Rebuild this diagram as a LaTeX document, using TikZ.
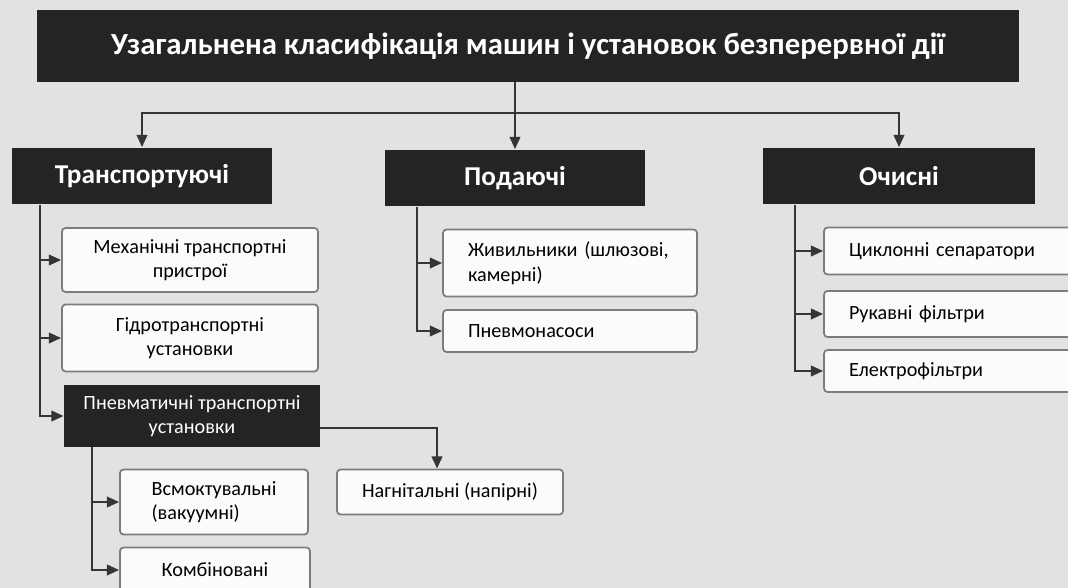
\documentclass[tikz,border=0pt]{standalone}
\usepackage{fontspec}
\setmainfont{Carlito}
\usepackage{tikz}
\usetikzlibrary{arrows.meta}

\definecolor{fon}{HTML}{E2E2E2}
\definecolor{temn}{HTML}{242424}
\definecolor{liniya}{HTML}{353535}
\definecolor{ramka}{HTML}{7C7C7C}

\tikzset{
	head/.style={fill=temn, text=white, inner sep=2pt, font=\bfseries\fontsize{15.5}{18}\selectfont},
	item/.style={draw=ramka, line width=1pt, fill=white!85!fon, rounded corners=2pt, align=center,
		inner sep=2pt, font=\fontsize{11.5}{14}\selectfont},
	itemL/.style={item, align=left, text width=4.08cm, inner xsep=0.5cm},
	arr/.style={draw=liniya, line width=1.3pt, -{Triangle[length=7pt, width=6pt]}},
}

\begin{document}
\begin{tikzpicture}[x=0.02cm, y=-0.02cm]
		
		% Фон сторінки
		\fill[fon] (0,0) rectangle (1068,588);
		\clip (0,0) rectangle (1068,588);
		
		% Заголовок
		\node[head, minimum width=19.66cm, minimum height=1.44cm, font=\bfseries\fontsize{17.5}{21}\selectfont]
			(title) at (528,46) {Узагальнена класифікація машин і установок безперервної дії};
		
		% Три групи
		\node[head, minimum width=5.2cm, minimum height=1.14cm] (trans) at (142,176) {Транспортуючі};
		\node[head, minimum width=5.2cm, minimum height=1.14cm] (poda) at (515,178) {Подаючі};
		\node[head, minimum width=5.44cm, minimum height=1.14cm] (ochy) at (899,176) {Очисні};
		
		\coordinate (br) at (515,113);
		\draw[arr] (title.south -| poda.north) -- (poda.north);
		\draw[arr] (br) -| (trans.north);
		\draw[arr] (br) -| (ochy.north);
		
		% Транспортуючі
		\node[item, minimum width=5.12cm, minimum height=1.28cm] (mech) at (190,260) {Механічні транспортні\\пристрої};
		\node[item, minimum width=5.12cm, minimum height=1.34cm] (hydro) at (190,338) {Гідротранспортні\\установки};
		\node[head, minimum width=5.12cm, minimum height=1.24cm, align=center, font=\fontsize{11.5}{14}\selectfont]
			(pnev) at (192,416) {Пневматичні транспортні\\установки};
		\foreach \n in {mech,hydro,pnev} {
			\draw[arr] ([xshift=0.56cm]trans.south west) |- (\n.west);
		}
		
		% Пневматичні установки
		\node[item, minimum width=3.76cm, minimum height=1.3cm, align=left] (vsm) at (214,502) {Всмоктувальні\\(вакуумні)};
		\node[item, minimum width=3.8cm, minimum height=0.9cm] (komb) at (215,570) {Комбіновані};
		\node[item, minimum width=4.52cm, minimum height=0.9cm] (nagn) at (450,492) {Нагнітальні (напірні)};
		\foreach \n in {vsm,komb} {
			\draw[arr] ([xshift=0.56cm]pnev.south west) |- (\n.west);
		}
		\draw[arr] ([yshift=-0.24cm]pnev.east) -| ([xshift=-0.26cm]nagn.north);
		
		% Подаючі
		\foreach \n/\y/\h/\t in {zhyv/263/1.34cm/{Живильники (шлюзові,\\камерні)}, pnvn/331/0.84cm/Пневмонасоси} {
			\node[itemL, minimum height=\h] (\n) at (570,\y) {\t};
			\draw[arr] ([xshift=0.64cm]poda.south west) |- (\n.west);
		}
		
		% Очисні
		\foreach \n/\y/\h/\t in {cykl/251/0.94cm/Циклонні сепаратори, ruk/314/0.92cm/Рукавні фільтри, elek/371/0.84cm/Електрофільтри} {
			\node[itemL, minimum height=\h] (\n) at (951,\y) {\t};
			\draw[arr] ([xshift=0.64cm]ochy.south west) |- (\n.west);
		}
		
\end{tikzpicture}
\end{document}
